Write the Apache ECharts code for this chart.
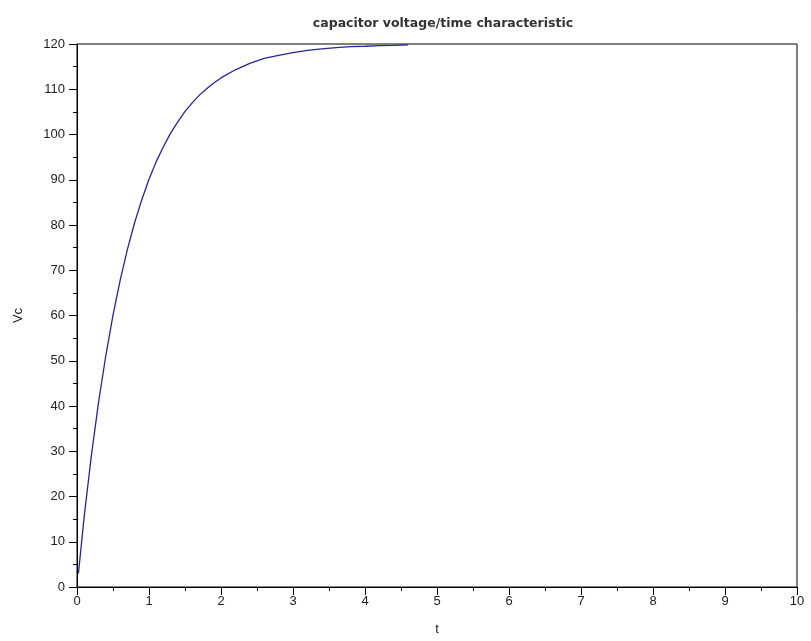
<!DOCTYPE html>
<html><head><meta charset="utf-8">
<script src="https://cdn.jsdelivr.net/npm/echarts@6/dist/echarts.min.js"></script>
<style>html,body{margin:0;padding:0;background:#fff}#c{width:811px;height:641px}</style>
</head><body><div id="c"></div>
<script>
var titleText = 'capacitor voltage/time characteristic';
var xName = 't';
var yName = 'Vc';
var tValues = [0.02, 0.1, 0.2, 0.3, 0.4, 0.5, 0.6, 0.7, 0.8, 0.9, 1.0, 1.1, 1.2, 1.3, 1.4, 1.5, 1.6, 1.7, 1.8, 1.9, 2.0, 2.2, 2.4, 2.6, 2.8, 3.0, 3.2, 3.4, 3.6, 3.8, 4.0, 4.2, 4.4, 4.6];
var vcValues = [3.0, 15.6, 29.1, 40.9, 51.1, 60.1, 67.8, 74.6, 80.5, 85.6, 90.1, 94.0, 97.3, 100.3, 102.8, 105.1, 107.0, 108.7, 110.1, 111.4, 112.5, 114.3, 115.7, 116.8, 117.5, 118.1, 118.6, 118.9, 119.2, 119.4, 119.5, 119.65, 119.7, 119.8];

var data = tValues.map(function (t, i) { return [t, vcValues[i]]; });
var chart = echarts.init(document.getElementById('c'), null, {renderer: 'canvas'});
var labelStyle = {color: '#222', fontSize: 13, fontFamily: 'Liberation Sans, Arial, sans-serif'};
chart.setOption({
  animation: false,
  backgroundColor: '#fff',
  title: {
    text: titleText, left: 438, top: 12, textAlign: 'center',
    textStyle: {fontSize: 12.5, fontWeight: 600, color: '#333', fontFamily: 'DejaVu Sans, sans-serif'}
  },
  grid: {left: 77, right: 14, top: 44, bottom: 54, show: true, borderColor: '#000', borderWidth: 1, backgroundColor: 'transparent'},
  xAxis: {
    type: 'value', min: 0, max: 10, interval: 1,
    name: xName, nameLocation: 'middle', nameGap: 36,
    nameTextStyle: {fontSize: 13, color: '#222', fontFamily: 'Liberation Sans, Arial, sans-serif'},
    axisLine: {show: true, onZero: false, lineStyle: {color: '#000', width: 1}},
    axisTick: {show: true, length: 8, lineStyle: {color: '#000'}},
    minorTick: {show: true, splitNumber: 2, length: 4, lineStyle: {color: '#000'}},
    splitLine: {show: false},
    axisLabel: Object.assign({margin: 8}, labelStyle)
  },
  yAxis: {
    type: 'value', min: 0, max: 120, interval: 10,
    name: yName, nameLocation: 'middle', nameGap: 52, nameRotate: 90,
    nameTextStyle: {fontSize: 13, color: '#222', fontFamily: 'Liberation Sans, Arial, sans-serif'},
    axisLine: {show: true, onZero: false, lineStyle: {color: '#000', width: 1}},
    axisTick: {show: true, length: 8, lineStyle: {color: '#000'}},
    minorTick: {show: true, splitNumber: 2, length: 4, lineStyle: {color: '#000'}},
    splitLine: {show: false},
    axisLabel: Object.assign({margin: 12}, labelStyle)
  },
  series: [{
    type: 'line', data: data, showSymbol: false, symbol: 'none',
    lineStyle: {color: '#25259a', width: 1.3}, clip: true
  }]
});
</script></body></html>
